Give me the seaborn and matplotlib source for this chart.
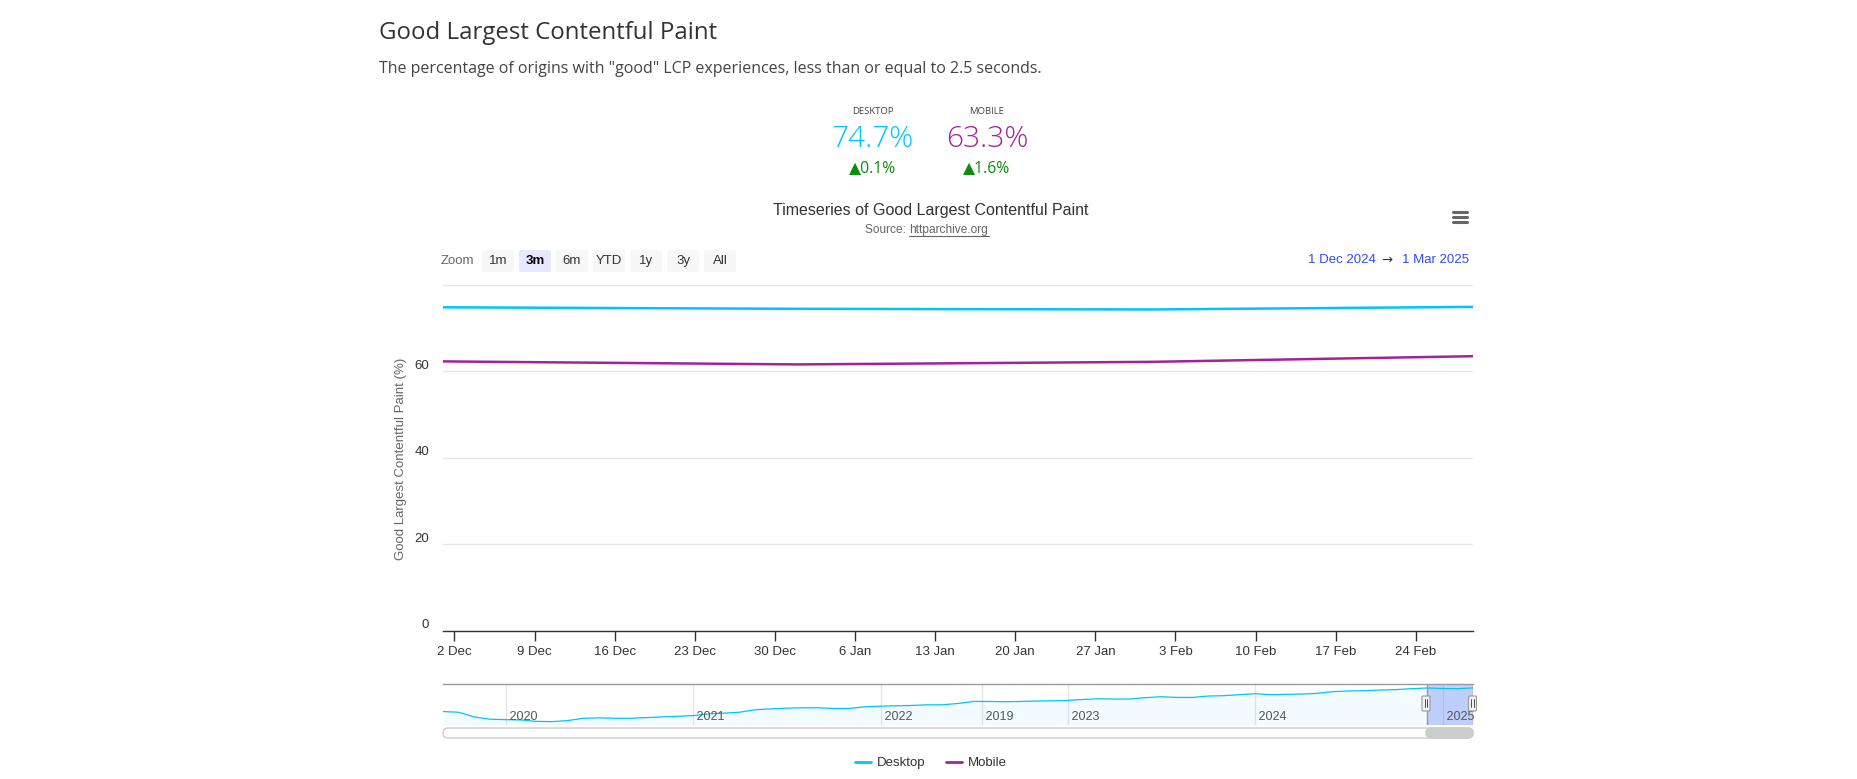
import numpy as np
import pandas as pd
import seaborn as sns
from matplotlib import pyplot as plt
from matplotlib import patches as mp
from matplotlib import transforms as mt
from matplotlib import lines as mlines

sns.set_style('white')
plt.rcParams['font.family'] = ['Liberation Sans', 'DejaVu Sans']

# ---- data ----
months = ['2024-12-01', '2025-01-01', '2025-02-01', '2025-03-01']
desktop = [74.8, 74.45, 74.3, 74.9]
mobile = [62.3, 61.6, 62.2, 63.5]

nav_start = '2019-09-01'
nav_desktop = [57.1, 56.6, 53.1, 51.4,
               51.1, 50.8, 49.8, 49.6, 50.4, 52.1, 52.4, 52.1, 52.1, 52.6, 53.1, 53.6,
               54.1, 55.4, 55.9, 56.6, 58.4, 59.1, 59.6, 59.9, 59.9, 59.4, 59.4, 60.6,
               61.1, 61.4, 61.6, 62.1, 62.1, 63.1, 64.6, 64.6, 64.4, 64.6, 64.9, 65.1,
               65.4, 66.1, 66.6, 66.4, 66.4, 67.4, 68.1, 67.6, 67.6, 68.6, 68.9, 69.6,
               70.4, 69.6, 69.9, 70.1, 70.6, 71.9, 72.4, 72.6, 73.1, 73.4, 74.1, 74.6,
               74.25, 74.1, 74.7]
nav_ticks = ['2020-01-01', '2021-01-01', '2022-01-01', '2022-07-17',
             '2023-01-01', '2024-01-01', '2025-01-01']
nav_tick_labels = ['2020', '2021', '2022', '2019', '2023', '2024', '2025']

y_ticks = [0, 20, 40, 60, 80]
y_labels = ['0', '20', '40', '60', '']
zoom_buttons = ['1m', '3m', '6m', 'YTD', '1y', '3y', 'All']

c_desk = '#00c4ff'
c_mob = '#a3229c'
c_green = '#0e8c0e'

df = pd.DataFrame({'date': pd.to_datetime(months * 2),
                   'value': desktop + mobile,
                   'series': ['Desktop'] * 4 + ['Mobile'] * 4})
nav = pd.DataFrame({'date': pd.date_range(nav_start, periods=len(nav_desktop), freq='MS'),
                    'value': nav_desktop})

W, H = 1858, 779
fig = plt.figure(figsize=(W / 100, H / 100), dpi=100)


def fx(x):
    return x / W


def fy(y):
    return 1 - y / H


def inch(x, y):
    return (x / 100, (H - y) / 100)


# ---- page header ----
fig.text(fx(379), fy(33), 'Good Largest Contentful Paint', family='Open Sans',
         fontsize=17.3, color='#333333', va='center')
fig.text(fx(379), fy(69), 'The percentage of origins with "good" LCP experiences, less than or equal to 2.5 seconds.',
         family='Open Sans', fontsize=11.5, color='#444444', va='center')

for cx, lab, val, chg, col in [(873, 'DESKTOP', '74.7%', '0.1%', c_desk),
                               (987, 'MOBILE', '63.3%', '1.6%', c_mob)]:
    fig.text(fx(cx), fy(112), lab, family='Open Sans', fontsize=6.8, color='#444444',
             ha='center', va='center')
    fig.text(fx(cx), fy(139), val, family='Open Sans', fontsize=21.5, fontweight='light',
             color=col, ha='center', va='center')
    fig.text(fx(cx), fy(168), '\u25B2' + chg, family=['Open Sans', 'DejaVu Sans'], fontsize=11.3,
             color=c_green, ha='center', va='center')

# ---- chart title ----
fig.text(fx(931), fy(210), 'Timeseries of Good Largest Contentful Paint', fontsize=11.5,
         color='#333333', ha='center', va='center')
fig.text(fx(909), fy(230), 'Source: ', fontsize=8.6, color='#666666', ha='right', va='center')
fig.text(fx(909), fy(230), 'httparchive.org', fontsize=8.6, color='#666666', ha='left',
         va='center')
fig.add_artist(mlines.Line2D([fx(909), fx(989)], [fy(235.5), fy(235.5)], color='#666666', lw=0.8))

# hamburger menu
for yy in [212, 217, 222]:
    fig.add_artist(mlines.Line2D([fx(1453), fx(1467)], [fy(yy), fy(yy)], color='#666666',
                                 lw=2.2, solid_capstyle='round'))

# zoom buttons
fig.text(fx(441), fy(261), 'Zoom', fontsize=9.5, color='#666666', va='center')
for i, b in enumerate(zoom_buttons):
    x0 = 482 + i * 37
    sel = b == '3m'
    fig.add_artist(mp.FancyBboxPatch(inch(x0, 272), 0.32, 0.22,
                                     boxstyle='round,pad=0,rounding_size=0.02',
                                     transform=fig.dpi_scale_trans,
                                     fc='#e6e9ff' if sel else '#f7f7f7', ec='none'))
    fig.text(fx(x0 + 16), fy(261), b, fontsize=9.5, color='#000000' if sel else '#333333',
             fontweight='bold' if sel else 'normal', ha='center', va='center')

fig.text(fx(1469), fy(260), '1 Mar 2025', fontsize=9.5, color='#3347ff', ha='right', va='center')
fig.text(fx(1387), fy(260), '\u2192', fontsize=9.5, color='#333333', ha='center', va='center',
         family=['DejaVu Sans'])
fig.text(fx(1308), fy(260), '1 Dec 2024', fontsize=9.5, color='#3347ff', ha='left', va='center')

# ---- main chart ----
ax = fig.add_axes([fx(443), fy(631), 1030 / W, (631 - 284.8) / H])
sns.lineplot(data=df, x='date', y='value', hue='series', palette=[c_desk, c_mob],
             lw=1.8, ax=ax, legend=False)
ax.set_xlim(pd.Timestamp(months[0]), pd.Timestamp(months[-1]))
ax.set_ylim(0, 80)
ax.set_yticks(y_ticks)
ax.set_yticklabels(y_labels)
xt = pd.date_range('2024-12-02', '2025-02-24', freq='7D')
ax.set_xticks(xt)
ax.set_xticklabels([f'{d.day} {d:%b}' for d in xt])
ax.set_xlabel('')
ax.set_ylabel('')
ax.yaxis.grid(True, color='#e6e6e6', lw=1)
ax.set_axisbelow(True)
for s in ['top', 'right', 'left']:
    ax.spines[s].set_visible(False)
ax.spines['bottom'].set_color('#333333')
ax.spines['bottom'].set_linewidth(1)
ax.tick_params(axis='y', length=0, pad=10, labelsize=9.5, labelcolor='#333333')
ax.tick_params(axis='x', length=7, width=1, color='#333333', pad=4, labelsize=9.5,
               labelcolor='#333333', direction='out', bottom=True)
off = mt.ScaledTranslation(0, 7 / 100, fig.dpi_scale_trans)
for lab in ax.get_yticklabels():
    lab.set_transform(lab.get_transform() + off)

fig.text(fx(401), fy(459), 'Good Largest Contentful Paint (%)', fontsize=9.5, color='#666666',
         rotation=90, ha='center', va='center')

# ---- navigator ----
nav_ax = fig.add_axes([fx(443), fy(725), 1030 / W, (725 - 684.3) / H])
nav_ax.fill_between(nav['date'], nav['value'], 47.1, color=c_desk, alpha=0.05, lw=0)
sns.lineplot(data=nav, x='date', y='value', color=c_desk, lw=0.9, ax=nav_ax)
nav_ax.set_xlim(nav['date'].iloc[0], nav['date'].iloc[-1])
nav_ax.set_ylim(47.1, 77.35)
nav_ax.set_xticks([])
nav_ax.set_yticks([])
nav_ax.set_xlabel('')
nav_ax.set_ylabel('')
for s in ['bottom', 'left', 'right']:
    nav_ax.spines[s].set_visible(False)
nav_ax.spines['top'].set_color('#999999')
nav_ax.spines['top'].set_linewidth(1)
for t, lab in zip(nav_ticks, nav_tick_labels):
    d = pd.Timestamp(t)
    nav_ax.axvline(d, color='#e6e6e6', lw=1, zorder=0)
    nav_ax.text(d, 0.2, ' ' + lab, transform=nav_ax.get_xaxis_transform(), fontsize=9,
                color='#555555', ha='left', va='center')
m0, m1 = pd.Timestamp(months[0]), pd.Timestamp(months[-1])
nav_ax.axvspan(m0, m1, color='#5573f5', alpha=0.32, lw=0)
nav_ax.axvline(m0, color='#999999', lw=1)
nav_ax.axvline(m1, color='#999999', lw=1)

# navigator handles
for hx in [1426, 1472.5]:
    fig.add_artist(mp.FancyBboxPatch(inch(hx - 4, 711), 0.08, 0.15,
                                     boxstyle='round,pad=0,rounding_size=0.01',
                                     transform=fig.dpi_scale_trans, fc='#f2f2f2',
                                     ec='#999999', lw=0.8))
    for dx in [-1.2, 1.2]:
        fig.add_artist(mlines.Line2D([fx(hx + dx), fx(hx + dx)], [fy(699), fy(707)],
                                     color='#333333', lw=0.6))

# scrollbar
fig.add_artist(mp.FancyBboxPatch(inch(443, 738), 10.30, 0.10,
                                 boxstyle='round,pad=0,rounding_size=0.05',
                                 transform=fig.dpi_scale_trans, fc='white',
                                 ec='#cccccc', lw=1))
fig.add_artist(mp.FancyBboxPatch(inch(1426, 738), 0.47, 0.10,
                                 boxstyle='round,pad=0,rounding_size=0.05',
                                 transform=fig.dpi_scale_trans, fc='#cccccc',
                                 ec='#cccccc', lw=1))

# ---- legend ----
handles = [mlines.Line2D([], [], color=c_desk, lw=2), mlines.Line2D([], [], color=c_mob, lw=2)]
fig.legend(handles, ['Desktop', 'Mobile'], loc='center', bbox_to_anchor=(fx(931), fy(763)),
           ncol=2, frameon=False, fontsize=9.5, handlelength=1.2, handletextpad=0.45,
           columnspacing=1.6, labelcolor='#333333')

fig.savefig('out.png', dpi=100)
